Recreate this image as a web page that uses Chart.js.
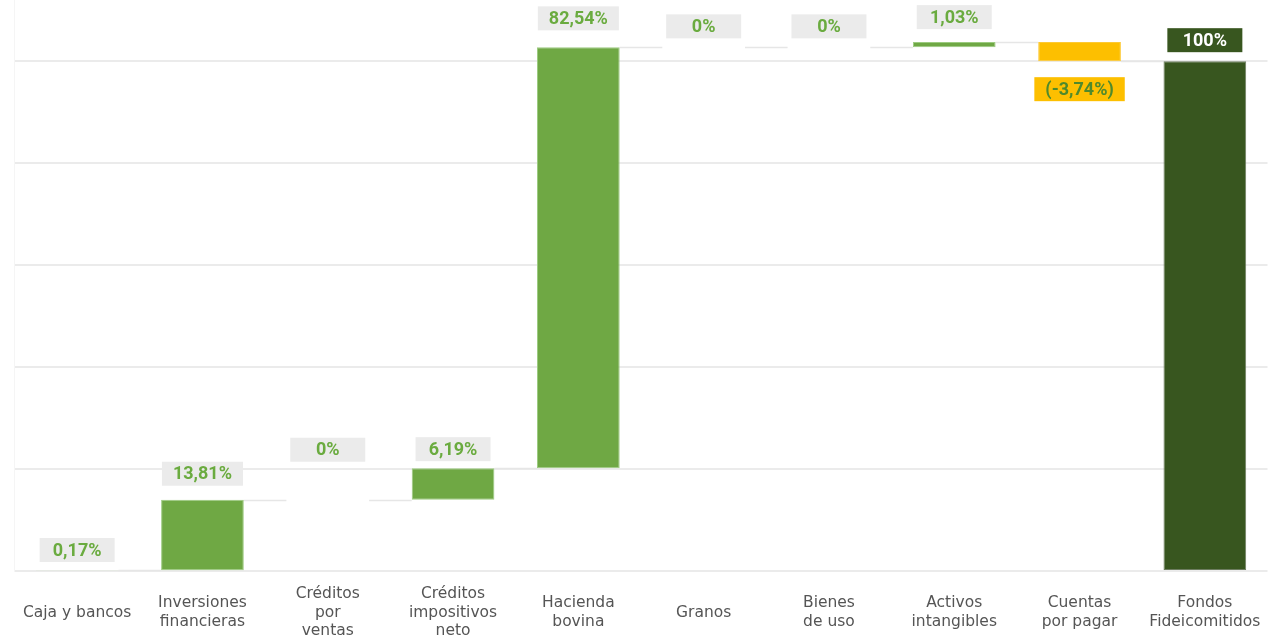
<!DOCTYPE html>
<html>
<head>
<meta charset="utf-8">
<script src="https://cdn.jsdelivr.net/npm/chart.js@4.4.1/dist/chart.umd.min.js"></script>
<style>
  html, body { margin: 0; padding: 0; background: #fff; }
</style>
</head>
<body>
<canvas id="waterfallChart" width="1269" height="637"></canvas>
<script>
const categories = [
  ["Caja y bancos"],
  ["Inversiones", "financieras"],
  ["Créditos", "por", "ventas"],
  ["Créditos", "impositivos", "neto"],
  ["Hacienda", "bovina"],
  ["Granos"],
  ["Bienes", "de uso"],
  ["Activos", "intangibles"],
  ["Cuentas", "por pagar"],
  ["Fondos", "Fideicomitidos"]
];
const changes = [0.17, 13.81, 0, 6.19, 82.54, 0, 0, 1.03, -3.74];
const total = 100;
const yTicks = [0, 20, 40, 60, 80, 100];

// floating bars [start, end] built from the changes
let run = 0;
const ranges = changes.map(d => {
  const r = [run, run + d];
  run += d;
  return r;
});
ranges.push([0, total]);

const GREEN = "#6fa844";
const YELLOW = "#fdbf00";
const DARK = "#38561f";

const fill = ranges.map((r, i) => i === ranges.length - 1 ? DARK : (r[1] < r[0] ? YELLOW : GREEN));
const edge = ranges.map((r, i) => i === ranges.length - 1 ? "#6d7d60" : (r[1] < r[0] ? "#fdc933" : "#9ccb80"));

function fmt(v) {
  const s = String(Math.round(v * 100) / 100).replace(".", ",") + "%";
  return v < 0 ? "(" + s + ")" : s;
}
const valueLabels = changes.map(fmt).concat([fmt(total)]);

// vertical gap between each label box and its bar, px
const labelGap = [8, 14, 38, 7, 17, 9, 9, 13, 16, 9];

const waterfallExtras = {
  id: "waterfallExtras",
  beforeDatasetsDraw(chart) {
    const ctx = chart.ctx;
    const meta = chart.getDatasetMeta(0);
    const y = chart.scales.y;
    ctx.save();
    ctx.strokeStyle = "#e6e6e6";
    ctx.lineWidth = 1.5;
    for (let i = 0; i < meta.data.length - 1; i++) {
      const a = meta.data[i], b = meta.data[i + 1];
      const py = Math.round(y.getPixelForValue(ranges[i][1])) + 0.5;
      ctx.beginPath();
      ctx.moveTo(a.x + a.width / 2, py);
      ctx.lineTo(b.x - b.width / 2, py);
      ctx.stroke();
    }
    ctx.restore();
  },
  afterDatasetsDraw(chart) {
    const ctx = chart.ctx;
    const meta = chart.getDatasetMeta(0);
    ctx.save();
    ctx.font = "bold 18px Roboto";
    ctx.textAlign = "center";
    ctx.textBaseline = "middle";
    meta.data.forEach((bar, i) => {
      const r = ranges[i];
      const last = i === meta.data.length - 1;
      const neg = r[1] < r[0];
      const top = Math.min(bar.y, bar.base);
      const bottom = Math.max(bar.y, bar.base);
      const text = valueLabels[i];
      const w = Math.max(75, ctx.measureText(text).width + 22);
      const h = 24;
      const by = neg ? bottom + labelGap[i] : top - labelGap[i] - h;
      ctx.fillStyle = last ? DARK : (neg ? YELLOW : "#ebebeb");
      ctx.fillRect(bar.x - w / 2, by, w, h);
      ctx.fillStyle = last ? "#ffffff" : (neg ? "#4f8a2c" : "#6aab3f");
      ctx.fillText(text, bar.x, by + h / 2 + 1);
    });
    ctx.restore();
  }
};

new Chart(document.getElementById("waterfallChart").getContext("2d"), {
  type: "bar",
  data: {
    labels: categories,
    datasets: [{
      data: ranges,
      backgroundColor: fill,
      borderColor: edge,
      borderWidth: 1,
      borderSkipped: false,
      barPercentage: 0.66,
      categoryPercentage: 1
    }]
  },
  options: {
    responsive: false,
    animation: false,
    layout: { padding: { top: 0, right: 1.5, bottom: 0, left: 0 } },
    plugins: {
      legend: { display: false },
      tooltip: { enabled: false }
    },
    scales: {
      x: {
        grid: { display: false, drawTicks: false },
        border: { display: false },
        ticks: {
          color: "#555",
          padding: 23,
          crossAlign: "center",
          maxRotation: 0,
          autoSkip: false,
          font: { family: "DejaVu Sans", size: 15.5, lineHeight: 1.2 }
        },
        afterFit(scale) {
          scale.height = 66;
          scale.paddingLeft = 0;
          scale.paddingRight = 0;
        }
      },
      y: {
        min: 0,
        max: 112,
        afterBuildTicks(scale) { scale.ticks = yTicks.map(v => ({ value: v })); },
        afterFit(scale) { scale.width = 14.5; },
        grid: { color: "#ebebeb", lineWidth: 2, drawTicks: false },
        border: { display: true, color: "#f5f5f5" },
        ticks: { display: false }
      }
    }
  },
  plugins: [waterfallExtras]
});
</script>
</body>
</html>
